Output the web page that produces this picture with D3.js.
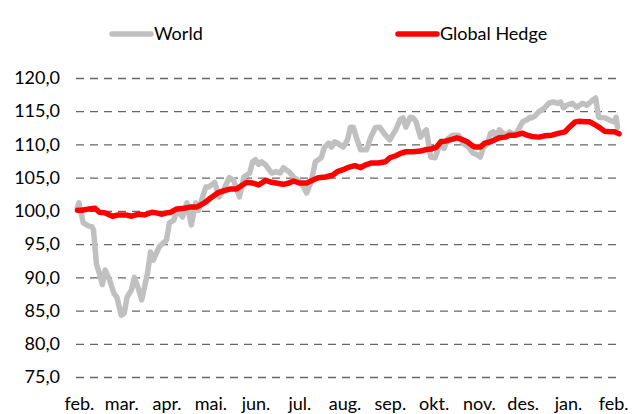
<!DOCTYPE html>
<html>
<head>
<meta charset="utf-8">
<script src="https://cdn.jsdelivr.net/npm/d3@7/dist/d3.min.js"></script>
<style>
  html, body { margin: 0; padding: 0; background: #fff; }
  svg { display: block; }
  text { font-family: Lato, "Liberation Sans", sans-serif; fill: #000; }
</style>
</head>
<body>
<svg id="chart" width="636" height="414"></svg>
<script>
// ---- DATA ----
const monthLabels = ["feb.", "mar.", "apr.", "mai.", "jun.", "jul.", "aug.", "sep.", "okt.", "nov.", "des.", "jan.", "feb."];
const monthDates = ["2020-02-01","2020-03-01","2020-04-01","2020-05-01","2020-06-01","2020-07-01","2020-08-01","2020-09-01","2020-10-01","2020-11-01","2020-12-01","2021-01-01","2021-02-01"];
const yTicks = [75, 80, 85, 90, 95, 100, 105, 110, 115, 120];
const seriesNames = ["World", "Global Hedge"];

const worldDates = ["2020-01-31","2020-02-01","2020-02-04","2020-02-07","2020-02-10","2020-02-11","2020-02-13","2020-02-15","2020-02-17","2020-02-19","2020-02-22","2020-02-25","2020-02-27","2020-03-01","2020-03-03","2020-03-05","2020-03-08","2020-03-10","2020-03-13","2020-03-15","2020-03-19","2020-03-21","2020-03-23","2020-03-27","2020-04-01","2020-04-03","2020-04-06","2020-04-08","2020-04-12","2020-04-15","2020-04-18","2020-04-21","2020-04-23","2020-04-25","2020-04-28","2020-04-30","2020-05-04","2020-05-07","2020-05-10","2020-05-14","2020-05-17","2020-05-21","2020-05-24","2020-05-28","2020-05-30","2020-06-01","2020-06-03","2020-06-05","2020-06-08","2020-06-12","2020-06-15","2020-06-18","2020-06-20","2020-06-24","2020-06-27","2020-06-30","2020-07-04","2020-07-06","2020-07-09","2020-07-12","2020-07-16","2020-07-18","2020-07-21","2020-07-23","2020-07-25","2020-07-27","2020-07-31","2020-08-03","2020-08-05","2020-08-07","2020-08-09","2020-08-12","2020-08-16","2020-08-19","2020-08-22","2020-08-25","2020-08-29","2020-09-01","2020-09-05","2020-09-08","2020-09-10","2020-09-12","2020-09-15","2020-09-17","2020-09-19","2020-09-22","2020-09-24","2020-09-26","2020-09-29","2020-10-02","2020-10-04","2020-10-06","2020-10-08","2020-10-11","2020-10-14","2020-10-18","2020-10-21","2020-10-25","2020-10-28","2020-10-31","2020-11-02","2020-11-04","2020-11-07","2020-11-09","2020-11-11","2020-11-13","2020-11-15","2020-11-19","2020-11-22","2020-11-26","2020-11-29","2020-12-01","2020-12-04","2020-12-06","2020-12-07","2020-12-09","2020-12-12","2020-12-16","2020-12-19","2020-12-22","2020-12-25","2020-12-27","2020-12-29","2020-12-31","2021-01-04","2021-01-07","2021-01-11","2021-01-14","2021-01-18","2021-01-20","2021-01-22","2021-01-26","2021-01-29","2021-02-02","2021-02-03","2021-02-04"];
const worldValues = [100.6,101.2,98.2,97.8,97.6,97.1,92.0,90.6,88.9,91.1,89.6,87.6,87.0,84.3,84.6,87.0,88.1,90.0,88.1,86.6,90.6,93.8,92.6,94.6,95.6,98.2,98.6,100.1,99.1,101.2,97.9,101.2,100.1,101.6,103.6,103.6,104.3,102.1,103.1,105.0,104.6,102.1,105.1,105.7,107.4,107.7,107.0,107.4,106.9,105.7,105.9,105.7,106.5,105.9,105.1,104.6,103.6,102.7,104.3,107.4,108.0,109.5,110.2,109.6,110.4,110.2,109.6,110.7,112.6,112.6,111.1,109.2,109.2,111.1,112.5,112.6,111.4,110.7,112.2,113.7,114.0,112.6,114.1,114.0,113.4,111.1,111.7,112.2,108.1,108.0,109.2,110.5,109.4,110.9,111.4,111.4,110.2,109.6,108.7,108.4,108.1,109.5,110.2,111.7,111.9,111.1,112.2,111.4,111.9,111.4,112.6,113.4,113.7,114.1,114.0,114.2,114.9,115.5,116.2,116.4,116.2,116.4,115.5,115.9,116.2,115.6,116.2,115.9,116.7,117.0,114.1,114.0,113.7,113.4,114.1,112.6];

const hedgeDates = ["2020-01-31","2020-02-03","2020-02-08","2020-02-12","2020-02-15","2020-02-19","2020-02-24","2020-02-28","2020-03-04","2020-03-08","2020-03-13","2020-03-17","2020-03-22","2020-03-25","2020-03-29","2020-04-01","2020-04-04","2020-04-08","2020-04-13","2020-04-18","2020-04-22","2020-04-27","2020-05-01","2020-05-06","2020-05-10","2020-05-15","2020-05-19","2020-05-23","2020-05-26","2020-05-30","2020-06-03","2020-06-08","2020-06-12","2020-06-15","2020-06-20","2020-06-24","2020-06-27","2020-07-01","2020-07-06","2020-07-10","2020-07-14","2020-07-19","2020-07-24","2020-07-27","2020-07-31","2020-08-03","2020-08-08","2020-08-12","2020-08-15","2020-08-19","2020-08-24","2020-08-29","2020-09-01","2020-09-05","2020-09-09","2020-09-12","2020-09-17","2020-09-22","2020-09-25","2020-09-29","2020-10-03","2020-10-06","2020-10-09","2020-10-14","2020-10-17","2020-10-20","2020-10-24","2020-10-27","2020-10-29","2020-11-02","2020-11-05","2020-11-09","2020-11-12","2020-11-15","2020-11-19","2020-11-22","2020-11-26","2020-12-01","2020-12-04","2020-12-07","2020-12-12","2020-12-16","2020-12-21","2020-12-26","2020-12-30","2021-01-02","2021-01-06","2021-01-09","2021-01-13","2021-01-16","2021-01-20","2021-01-23","2021-01-26","2021-01-30","2021-02-02","2021-02-05"];
const hedgeValues = [100.1,100.1,100.3,100.4,99.8,99.7,99.2,99.4,99.4,99.2,99.5,99.4,99.8,99.7,99.5,99.7,99.8,100.3,100.4,100.6,100.6,101.2,101.9,102.7,103.0,103.3,103.3,103.9,104.3,104.2,103.9,104.6,104.3,104.2,104.0,104.2,104.5,104.2,104.2,104.6,105.0,105.1,105.4,105.9,106.2,106.5,106.8,106.5,106.9,107.2,107.2,107.4,108.0,108.3,108.7,108.9,108.9,109.0,109.2,109.3,109.6,110.4,110.5,110.8,111.0,110.8,110.4,109.9,109.6,109.6,110.2,110.4,110.7,111.0,111.1,111.4,111.4,111.7,111.4,111.2,111.1,111.3,111.4,111.7,111.9,112.6,113.4,113.5,113.4,113.4,112.9,112.5,112.0,111.9,111.9,111.6];

// ---- CHART ----
const parse = d3.timeParse("%Y-%m-%d");
const svg = d3.select("#chart");
const plotL = 76, plotR = 619, plotT = 78, plotB = 377;

const x = d3.scaleTime()
  .domain([parse("2020-01-30"), parse("2021-02-05")])
  .range([plotL, plotR]);
const y = d3.scaleLinear().domain([75, 120]).range([plotB, plotT]);

const locale = d3.formatLocale({decimal: ",", thousands: " ", grouping: [3], currency: ["", " kr"]});
const fmt = locale.format(".1f");

// gridlines
const grid = svg.append("g")
  .attr("transform", `translate(${plotL},0)`)
  .call(d3.axisLeft(y).tickValues(yTicks).tickSize(-(plotR - plotL)).tickFormat(""));
grid.select(".domain").remove();
grid.selectAll(".tick line")
  .attr("stroke", "#666666")
  .attr("stroke-width", 1.3)
  .attr("stroke-dasharray", "8,6");

// y labels
const yAxis = svg.append("g")
  .attr("transform", `translate(${plotL},0)`)
  .call(d3.axisLeft(y).tickValues(yTicks).tickSize(0).tickPadding(16).tickFormat(fmt));
yAxis.select(".domain").remove();
yAxis.selectAll("text")
  .style("font-family", "Lato, 'Liberation Sans', sans-serif")
  .style("font-size", "18px")
  .attr("fill", "#000");

// x labels
const xDates = monthDates.map(parse);
const xAxis = svg.append("g")
  .attr("transform", `translate(0,${plotB})`)
  .call(d3.axisBottom(x).tickValues(xDates).tickSize(0).tickPadding(20)
    .tickFormat((d, i) => monthLabels[i]));
xAxis.select(".domain").remove();
xAxis.selectAll("text")
  .style("font-family", "Lato, 'Liberation Sans', sans-serif")
  .style("font-size", "18px")
  .attr("fill", "#000");

// lines
const line = d3.line().x(d => x(d.date)).y(d => y(d.v));
const world = worldDates.map((d, i) => ({date: parse(d), v: worldValues[i]}));
const hedge = hedgeDates.map((d, i) => ({date: parse(d), v: hedgeValues[i]}));
const colors = ["#c0c0c0", "#ff0000"];

svg.append("path").datum(world)
  .attr("d", line).attr("fill", "none").attr("stroke", colors[0])
  .attr("stroke-width", 5.5).attr("stroke-linejoin", "round").attr("stroke-linecap", "round");
svg.append("path").datum(hedge)
  .attr("d", line).attr("fill", "none").attr("stroke", colors[1])
  .attr("stroke-width", 5.5).attr("stroke-linejoin", "round").attr("stroke-linecap", "round");

// legend
const legendPos = [110, 396];
seriesNames.forEach((name, i) => {
  const g = svg.append("g").attr("transform", `translate(${legendPos[i]},34)`);
  g.append("line").attr("x1", 2).attr("x2", 41).attr("y1", 0).attr("y2", 0)
    .attr("stroke", colors[i]).attr("stroke-width", 5.5).attr("stroke-linecap", "round");
  g.append("text").attr("x", 44).attr("y", 6)
    .style("font-size", "18px").text(name);
});
</script>
</body>
</html>
